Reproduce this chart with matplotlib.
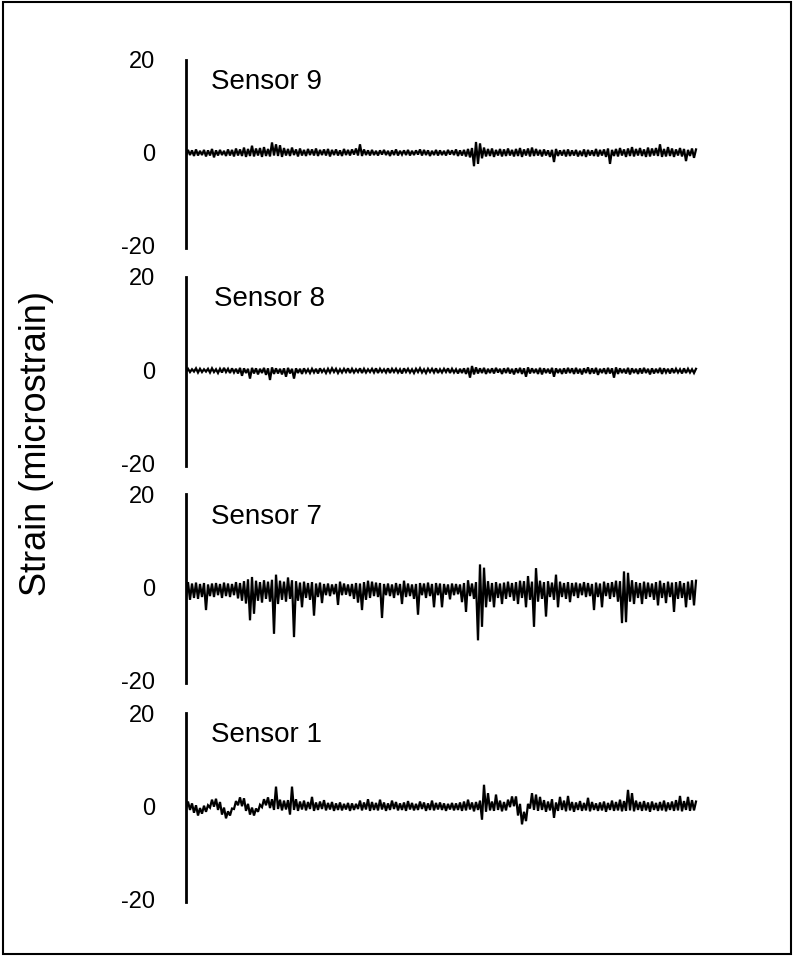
import numpy as np
import matplotlib
matplotlib.use("Agg")
import matplotlib.pyplot as plt
from matplotlib.patches import Rectangle

plt.rcParams['font.family'] = ['Liberation Sans', 'DejaVu Sans']

# 센서 이름 (위에서 아래 순서)
sensors = ["Sensor 9", "Sensor 8", "Sensor 7", "Sensor 1"]
y_ticks = [-20, 0, 20]
y_label = "Strain (microstrain)"

# 그림에서 읽은 구간별 최대/최소 값 (128 구간)
s9_hi = [0.6, 0.5, 0.7, 0.4, 0.6, 0.5, 0.8, 0.5, 0.6, 0.4, 0.7, 0.6, 0.9, 0.7, 1.1, 0.8,
         1.5, 0.9, 1.0, 1.2, 0.8, 2.2, 1.8, 1.6, 1.0, 0.8, 1.1, 0.7, 0.9, 0.6, 0.8, 0.7,
         0.9, 0.6, 0.7, 0.8, 0.6, 0.7, 0.5, 0.8, 0.6, 0.7, 0.9, 1.8, 0.7, 0.5, 0.6, 0.4,
         0.5, 0.6, 0.4, 0.5, 0.7, 0.4, 0.5, 0.6, 0.4, 0.5, 0.7, 0.6, 0.5, 0.4, 0.6, 0.5,
         0.4, 0.6, 0.5, 0.7, 0.5, 0.6, 0.8, 1.0, 2.3, 2.0, 1.1, 0.8, 0.9, 0.6, 0.8, 0.7,
         0.9, 0.6, 0.8, 1.0, 0.7, 0.9, 1.1, 0.8, 0.6, 0.7, 0.5, 0.6, 0.8, 0.5, 0.6, 0.7,
         0.5, 0.6, 0.4, 0.7, 0.6, 0.5, 0.8, 0.6, 0.7, 0.9, 0.6, 0.8, 1.0, 0.7, 0.9, 1.2,
         0.8, 1.0, 0.7, 1.1, 0.9, 1.0, 1.8, 0.8, 1.2, 0.9, 0.7, 1.0, 0.8, 0.6, 0.9, 0.7]
s9_lo = [-0.6, -0.5, -0.7, -0.6, -0.5, -0.8, -0.6, -1.0, -0.6, -0.5, -0.7, -0.6, -0.8, -0.6, -0.7, -0.9,
         -0.7, -0.8, -0.6, -0.9, -0.7, -0.8, -0.6, -0.7, -0.9, -0.6, -0.7, -0.5, -0.8, -0.6, -0.7, -0.5,
         -0.6, -0.7, -0.5, -0.6, -0.8, -0.5, -0.6, -0.7, -0.5, -0.6, -0.4, -0.6, -0.7, -0.5, -0.6, -0.5,
         -0.6, -0.4, -0.5, -0.7, -0.5, -0.6, -0.4, -0.5, -0.6, -0.5, -0.4, -0.6, -0.5, -0.7, -0.5, -0.6,
         -0.5, -0.6, -0.4, -0.5, -0.7, -0.6, -0.8, -1.0, -2.9, -2.4, -1.2, -0.8, -0.7, -0.9, -0.6, -0.8,
         -0.7, -0.6, -0.8, -0.7, -0.9, -0.6, -0.8, -0.7, -0.6, -0.8, -0.6, -0.9, -2.0, -0.7, -0.6, -0.8,
         -0.7, -0.6, -0.8, -0.7, -0.9, -0.6, -0.7, -0.8, -0.6, -0.9, -2.4, -0.7, -0.8, -0.6, -0.9, -0.7,
         -0.8, -0.6, -0.7, -0.9, -0.8, -0.6, -0.7, -0.9, -0.8, -0.7, -0.9, -0.6, -0.8, -1.8, -0.7, -1.1]

s8_hi = [0.3, 0.2, 0.4, 0.3, 0.2, 0.3, 0.4, 0.2, 0.3, 0.5, 0.3, 0.4, 0.3, 0.5, 0.4, 0.3,
         0.5, 0.4, 0.3, 0.5, 0.4, 0.6, 0.4, 0.3, 0.4, 0.5, 0.3, 0.4, 0.3, 0.4, 0.2, 0.3,
         0.3, 0.4, 0.2, 0.3, 0.4, 0.3, 0.2, 0.3, 0.4, 0.3, 0.2, 0.4, 0.3, 0.2, 0.3, 0.4,
         0.3, 0.2, 0.4, 0.3, 0.3, 0.2, 0.4, 0.3, 0.2, 0.3, 0.4, 0.2, 0.3, 0.3, 0.4, 0.2,
         0.3, 0.4, 0.3, 0.2, 0.3, 0.4, 0.5, 0.9, 0.6, 0.4, 0.5, 0.3, 0.4, 0.5, 0.3, 0.4,
         0.5, 0.3, 0.4, 0.5, 0.4, 0.6, 0.4, 0.3, 0.5, 0.4, 0.3, 0.5, 0.4, 0.3, 0.4, 0.5,
         0.4, 0.5, 0.3, 0.4, 0.6, 0.4, 0.5, 0.3, 0.4, 0.5, 0.4, 0.6, 0.4, 0.3, 0.5, 0.4,
         0.3, 0.4, 0.5, 0.3, 0.4, 0.3, 0.5, 0.4, 0.3, 0.4, 0.3, 0.2, 0.4, 0.3, 0.2, 0.3]
s8_lo = [-0.3, -0.4, -0.3, -0.5, -0.4, -0.3, -0.5, -0.4, -0.6, -0.5, -0.4, -0.6, -0.5, -0.7, -1.2, -0.6,
         -1.8, -0.7, -0.9, -0.6, -1.0, -2.1, -0.8, -0.7, -0.9, -1.4, -0.7, -1.8, -0.6, -0.8, -0.5, -0.6,
         -0.5, -0.7, -0.4, -0.6, -0.5, -0.4, -0.6, -0.5, -0.4, -0.6, -0.5, -0.4, -0.6, -0.5, -0.4, -0.5,
         -0.6, -0.4, -0.5, -0.6, -0.4, -0.5, -0.7, -0.4, -0.5, -0.6, -0.4, -0.5, -0.6, -0.4, -0.5, -0.6,
         -0.5, -0.4, -0.6, -0.5, -0.7, -0.6, -0.8, -1.6, -0.9, -0.7, -0.6, -0.8, -0.6, -0.7, -0.5, -0.8,
         -0.6, -0.7, -0.9, -0.6, -0.8, -1.4, -0.7, -0.6, -0.8, -0.9, -0.6, -0.7, -1.4, -0.6, -0.8, -0.7,
         -0.6, -0.8, -0.7, -0.9, -0.6, -0.8, -0.7, -1.0, -0.6, -0.8, -0.7, -1.6, -0.8, -0.6, -0.7, -0.9,
         -0.6, -0.8, -0.7, -0.6, -0.9, -0.7, -0.6, -0.8, -0.5, -0.7, -0.6, -0.5, -0.7, -0.6, -0.5, -0.6]

s7_hi = [1.2, 0.9, 1.1, 0.8, 1.0, 0.7, 0.9, 1.0, 0.8, 1.1, 0.9, 0.8, 1.2, 1.0, 1.4, 1.8,
         2.3, 1.5, 1.2, 1.6, 1.3, 1.7, 2.8, 1.5, 1.3, 2.2, 1.6, 1.4, 1.1, 1.3, 1.0, 1.2,
         0.9, 1.1, 0.8, 0.9, 0.7, 0.8, 1.3, 0.9, 0.7, 0.8, 1.0, 0.9, 1.2, 1.5, 1.3, 1.1,
         1.0, 0.8, 0.9, 0.7, 1.0, 0.8, 1.5, 0.9, 0.7, 0.8, 1.0, 0.9, 1.1, 0.8, 1.0, 0.9,
         0.8, 0.7, 0.9, 0.8, 0.7, 1.0, 1.6, 0.9, 1.2, 5.0, 4.3, 1.4, 1.0, 1.2, 0.9, 1.1,
         1.3, 1.0, 1.2, 1.5, 1.4, 2.5, 1.3, 4.2, 1.5, 1.2, 1.4, 1.1, 2.8, 1.3, 1.0, 1.2,
         1.0, 1.1, 0.9, 1.2, 1.0, 0.8, 1.1, 0.9, 1.3, 1.0, 1.2, 1.5, 1.4, 3.5, 3.2, 1.6,
         1.2, 1.0, 1.3, 1.1, 0.9, 1.2, 1.5, 1.0, 1.3, 1.1, 1.2, 1.4, 1.0, 1.3, 1.6, 1.5]
s7_lo = [-2.0, -2.6, -2.2, -2.4, -2.0, -4.8, -1.8, -2.0, -1.6, -2.2, -1.8, -2.0, -1.6, -2.3, -2.8, -3.4,
         -7.0, -5.6, -2.8, -3.2, -2.4, -3.0, -9.9, -3.5, -2.6, -3.0, -2.4, -10.6, -2.8, -4.2, -2.2, -2.6,
         -6.0, -2.0, -3.3, -1.6, -1.8, -1.4, -3.7, -1.6, -1.5, -1.8, -2.4, -3.2, -4.8, -2.6, -2.2, -1.8,
         -2.0, -6.5, -1.6, -1.8, -2.2, -1.6, -3.5, -2.0, -1.8, -2.4, -5.8, -1.6, -2.2, -1.8, -4.2, -1.6,
         -4.2, -1.5, -2.5, -1.6, -1.4, -3.1, -5.2, -1.8, -2.4, -11.3, -8.4, -4.2, -3.0, -4.2, -2.2, -3.5,
         -2.4, -2.0, -2.8, -3.5, -2.2, -4.2, -2.6, -8.4, -3.0, -2.4, -6.2, -2.0, -2.6, -4.2, -2.0, -2.4,
         -3.1, -1.8, -2.2, -1.6, -2.0, -1.8, -4.8, -2.0, -4.2, -1.8, -2.4, -2.0, -3.0, -7.6, -7.4, -3.0,
         -3.5, -2.2, -3.5, -2.4, -2.0, -2.6, -3.8, -2.2, -3.3, -2.0, -5.2, -2.4, -2.2, -4.2, -2.6, -3.8]

s1_hi = [1.0, 0.6, 0.2, -0.4, 0.1, 0.2, 1.4, 1.6, 0.9, -0.3, -1.1, -0.5, 1.1, 1.9, 1.7, 0.5,
         -0.3, -0.5, 0.3, 1.5, 1.9, 1.5, 4.2, 1.4, 1.2, 1.3, 4.2, 1.5, 1.0, 1.2, 0.9, 2.0,
         0.8, 1.0, 1.3, 0.7, 0.9, 0.6, 0.8, 0.5, 0.7, 0.6, 0.5, 1.2, 0.8, 1.5, 0.9, 0.7,
         1.4, 0.8, 0.6, 1.2, 0.9, 0.6, 0.8, 1.1, 0.7, 0.5, 1.0, 0.8, 0.6, 1.2, 0.7, 0.8,
         0.6, 0.5, 0.7, 0.6, 0.8, 1.0, 1.4, 0.8, 0.9, 1.2, 4.6, 2.8, 1.0, 2.5, 1.2, 0.9,
         1.4, 2.1, 2.1, 0.5, -1.2, 0.5, 2.8, 2.5, 2.0, 1.3, 1.0, 1.5, 0.8, 2.0, 1.2, 2.2,
         0.9, 0.8, 1.1, 0.7, 1.8, 0.9, 0.6, 0.8, 1.0, 0.7, 1.2, 0.9, 1.4, 1.1, 3.5, 2.8,
         1.2, 0.9, 1.1, 0.8, 1.0, 0.7, 0.9, 1.2, 0.8, 1.0, 1.3, 2.2, 1.1, 2.0, 1.3, 1.0]
s1_lo = [-0.5, -0.8, -1.4, -2.0, -1.6, -1.2, -0.3, -0.1, -0.8, -1.8, -2.6, -2.0, -0.6, 0.2, 0.0, -1.0,
         -1.8, -2.0, -1.2, -0.2, 0.2, -0.4, -0.8, -0.6, -0.9, -0.7, -1.8, -0.8, -1.0, -0.7, -0.9, -0.6,
         -1.0, -0.8, -0.6, -0.9, -0.7, -1.0, -0.8, -0.9, -0.7, -1.0, -0.8, -0.6, -0.9, -0.7, -1.0, -0.8,
         -0.9, -0.7, -1.0, -0.8, -0.6, -0.9, -0.8, -1.0, -0.7, -0.9, -0.8, -0.6, -1.0, -0.8, -0.9, -0.7,
         -0.8, -1.0, -0.7, -0.9, -0.8, -1.0, -0.9, -0.7, -1.1, -0.8, -2.9, -1.2, -0.9, -1.0, -0.8, -1.1,
         -0.9, -0.2, 0.0, -2.0, -3.9, -3.2, -0.5, -0.8, -1.0, -0.8, -1.2, -0.9, -2.5, -1.0, -0.8, -1.1,
         -0.9, -1.2, -0.8, -1.0, -0.9, -1.1, -0.8, -1.0, -0.9, -1.2, -0.8, -1.0, -0.9, -1.1, -1.0, -0.9,
         -1.1, -0.8, -1.0, -0.9, -1.2, -0.8, -1.0, -0.9, -1.1, -0.8, -1.0, -0.9, -1.1, -0.8, -1.0, -0.9]

series = [(s9_hi, s9_lo), (s8_hi, s8_lo), (s7_hi, s7_lo), (s1_hi, s1_lo)]


# 최소/최대 값을 번갈아 이어서 선 만들기
def zigzag(hi, lo):
    n = len(hi)
    xs = np.empty(2 * n)
    ys = np.empty(2 * n)
    xs[0::2] = np.arange(n)
    xs[1::2] = np.arange(n) + 0.5
    ys[0::2] = lo
    ys[1::2] = hi
    return xs, ys


W, H = 794, 956
fig = plt.figure(figsize=(W / 100, H / 100), dpi=100)

# 바깥 테두리
fig.patches.append(Rectangle((3 / W, 2 / H), 788 / W, 952 / H, transform=fig.transFigure,
                             fill=False, edgecolor='black', linewidth=1.5))

px_per_unit = 4.66
panel_h = 40.5 * px_per_unit
tops = [59.5, 277, 494.5, 713]
label_x = [211, 214, 211, 211]

for i, (name, (hi, lo)) in enumerate(zip(sensors, series)):
    top = tops[i]
    ax = fig.add_axes([186 / W, 1 - (top + panel_h) / H, 514 / W, panel_h / H])
    xs, ys = zigzag(hi, lo)
    ax.plot(xs, ys, color='black', linewidth=1.6, solid_joinstyle='miter')
    ax.set_xlim(0, 128.5)
    ax.set_ylim(-20.5, 20)
    for s in ['top', 'right', 'bottom']:
        ax.spines[s].set_visible(False)
    ax.spines['left'].set_linewidth(2)
    ax.set_xticks([])
    ax.set_yticks(y_ticks)
    ax.set_yticklabels([str(t) for t in y_ticks], fontsize=17)
    ax.tick_params(axis='y', length=0, pad=22)
    ax.patch.set_alpha(0)
    ax.text((label_x[i] - 186) / 514, 15.2, name, transform=ax.get_yaxis_transform(),
            fontsize=20, va='center', ha='left')

fig.text(37 / W, 1 - 443 / H, y_label, rotation=90, fontsize=26, va='center', ha='center')

fig.savefig("out.png", dpi=100)
